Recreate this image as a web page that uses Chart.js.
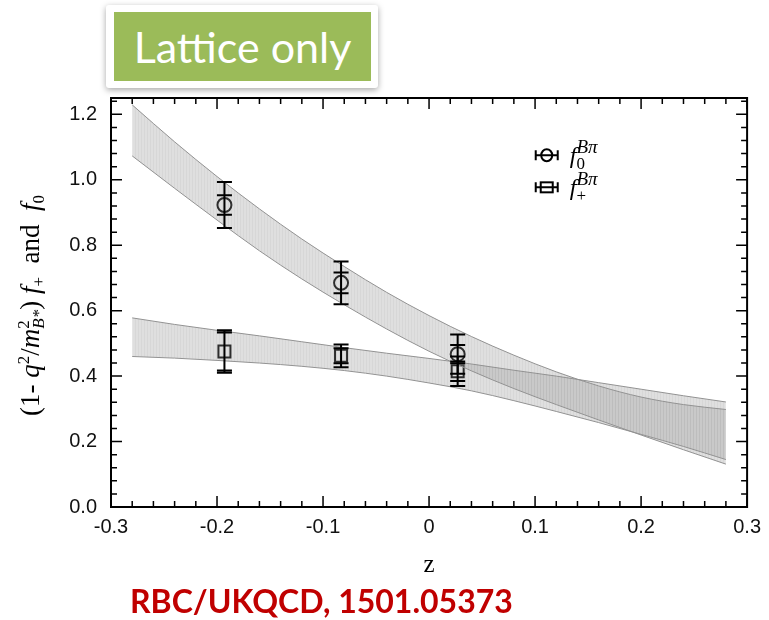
<!DOCTYPE html>
<html>
<head>
<meta charset="utf-8">
<script src="https://cdn.jsdelivr.net/npm/chart.js@4.4.1/dist/chart.umd.min.js"></script>
<style>
	body { margin: 0; background: #fff; }
	#wrap { position: relative; width: 769px; height: 620px; }
	#title-box {
		position: absolute; left: 106px; top: 5px; width: 272px; height: 83px;
		background: #fff; border-radius: 3px;
		box-shadow: 0 2px 6px rgba(0, 0, 0, 0.35);
	}
	#title-box div {
		position: absolute; left: 8px; top: 7px; width: 257px; height: 69px;
		background: #9bbb59; color: #fff; text-align: center;
		font: 43px Lato, sans-serif; line-height: 69px;
	}
	#cite {
		position: absolute; left: 130px; top: 585px;
		font: bold 32px Lato, sans-serif; line-height: 1; color: #c00000;
	}
</style>
</head>
<body>
<div id="wrap">
	<canvas id="chart" width="769" height="620"></canvas>
	<div id="title-box"><div>Lattice only</div></div>
	<div id="cite">RBC/UKQCD, 1501.05373</div>
</div>
<script>
const chartCanvas = document.getElementById('chart');

// band samples (z) and band edges
const bandZ = [-0.28, -0.24, -0.20, -0.16, -0.12, -0.08, -0.04, 0.00, 0.04, 0.08, 0.12, 0.16, 0.20, 0.24, 0.28];
const f0Upper = [1.229, 1.116, 1.01, 0.911, 0.819, 0.735, 0.656, 0.585, 0.521, 0.464, 0.413, 0.37, 0.336, 0.313, 0.298];
const f0Lower = [1.073, 0.974, 0.877, 0.783, 0.697, 0.618, 0.544, 0.476, 0.416, 0.362, 0.313, 0.266, 0.22, 0.175, 0.131];
const fpUpper = [0.578, 0.558, 0.54, 0.523, 0.505, 0.487, 0.47, 0.454, 0.437, 0.418, 0.40, 0.38, 0.36, 0.34, 0.321];
const fpLower = [0.46, 0.455, 0.448, 0.44, 0.43, 0.417, 0.40, 0.379, 0.355, 0.325, 0.292, 0.258, 0.222, 0.185, 0.145];

// lattice points
const pointZ = [-0.193, -0.083, 0.027];
const f0Val = [0.923, 0.685, 0.467];
const f0ErrTot = [0.07, 0.065, 0.06];
const f0ErrStat = [0.03, 0.032, 0.028];
const fpVal = [0.475, 0.462, 0.415];
const fpErrTot = [0.065, 0.035, 0.045];
const fpErrStat = [0.058, 0.023, 0.03];

const xTicks = [-0.3, -0.2, -0.1, 0, 0.1, 0.2, 0.3];
const yTicks = [0, 0.2, 0.4, 0.6, 0.8, 1.0, 1.2];

const serif = '"Liberation Serif", "DejaVu Serif", serif';
const sans = '"Liberation Sans", Arial, sans-serif';
const bandEdge = '#929292';

// light grey fill with faint vertical hatching, like the original shading
const patCanvas = document.createElement('canvas');
patCanvas.width = 3; patCanvas.height = 4;
const patCtx = patCanvas.getContext('2d');
patCtx.fillStyle = 'rgba(150, 150, 150, 0.3)';
patCtx.fillRect(0, 0, 3, 4);
patCtx.fillStyle = 'rgba(120, 120, 120, 0.08)';
patCtx.fillRect(0, 0, 1, 4);
const bandFill = patCtx.createPattern(patCanvas, 'repeat');

const toPts = (xs, ys) => xs.map((x, i) => ({ x: x, y: ys[i] }));

// draw a run of text pieces: [text, style, scale, dy, noAdvance]
function drawPieces(ctx, pieces, size, x, y, align) {
	let total = 0;
	pieces.forEach(p => {
		ctx.font = p[1] + Math.round(size * p[2]) + 'px ' + serif;
		if (!p[4]) total += ctx.measureText(p[0]).width;
	});
	let cx = align === 'center' ? x - total / 2 : x;
	ctx.textAlign = 'left';
	ctx.textBaseline = 'alphabetic';
	pieces.forEach(p => {
		ctx.font = p[1] + Math.round(size * p[2]) + 'px ' + serif;
		ctx.fillText(p[0], cx, y + (p[3] || 0));
		if (!p[4]) cx += ctx.measureText(p[0]).width;
	});
}

const framePlugin = {
	id: 'frame',
	afterDatasetsDraw(chart) {
		const ctx = chart.ctx;
		const a = chart.chartArea;
		const xs = chart.scales.x, ys = chart.scales.y;
		ctx.save();
		ctx.strokeStyle = '#000';

		// error bars
		ctx.lineWidth = 2;
		const bar = (z, v, eTot, eStat) => {
			const px = xs.getPixelForValue(z);
			const top = ys.getPixelForValue(v + eTot), bot = ys.getPixelForValue(v - eTot);
			ctx.beginPath();
			ctx.moveTo(px, top); ctx.lineTo(px, bot);
			[v + eTot, v - eTot, v + eStat, v - eStat].forEach(e => {
				const py = ys.getPixelForValue(e);
				ctx.moveTo(px - 7.5, py); ctx.lineTo(px + 7.5, py);
			});
			ctx.stroke();
		};
		pointZ.forEach((z, i) => {
			bar(z, f0Val[i], f0ErrTot[i], f0ErrStat[i]);
			bar(z, fpVal[i], fpErrTot[i], fpErrStat[i]);
		});

		// frame
		ctx.lineWidth = 2;
		ctx.strokeRect(a.left, a.top, a.right - a.left, a.bottom - a.top);

		// inward ticks on all four sides
		ctx.lineWidth = 1.5;
		ctx.beginPath();
		for (let k = -15; k <= 15; k++) {
			const px = xs.getPixelForValue(k * 0.02);
			const len = k % 5 === 0 ? 11 : 6;
			ctx.moveTo(px, a.bottom); ctx.lineTo(px, a.bottom - len);
			ctx.moveTo(px, a.top); ctx.lineTo(px, a.top + len);
		}
		for (let k = 0; k <= 31; k++) {
			const py = ys.getPixelForValue(k * 0.04);
			const len = k % 5 === 0 ? 11 : 6;
			ctx.moveTo(a.left, py); ctx.lineTo(a.left + len, py);
			ctx.moveTo(a.right, py); ctx.lineTo(a.right - len, py);
		}
		ctx.stroke();

		// legend
		const lx = xs.getPixelForValue(0.111), lw = 11;
		const ly0 = ys.getPixelForValue(1.075), ly1 = ys.getPixelForValue(0.977);
		ctx.lineWidth = 2;
		[ly0, ly1].forEach(ly => {
			ctx.beginPath();
			ctx.moveTo(lx - lw, ly); ctx.lineTo(lx + lw, ly);
			ctx.moveTo(lx - lw, ly - 5); ctx.lineTo(lx - lw, ly + 5);
			ctx.moveTo(lx + lw, ly - 5); ctx.lineTo(lx + lw, ly + 5);
			ctx.stroke();
		});
		ctx.beginPath();
		ctx.ellipse(lx, ly0, 5.5, 6, 0, 0, Math.PI * 2);
		ctx.stroke();
		ctx.strokeRect(lx - 6, ly1 - 5, 12, 10);
		ctx.fillStyle = '#000';
		drawPieces(ctx, [['f', 'italic ', 1, 0], ['0', '', 0.7, 6, true], ['B\u03c0', 'italic ', 0.78, -10]], 24, lx + 23, ly0 + 8);
		drawPieces(ctx, [['f', 'italic ', 1, 0], ['+', '', 0.7, 6, true], ['B\u03c0', 'italic ', 0.78, -10]], 24, lx + 23, ly1 + 8);

		// axis titles
		drawPieces(ctx, [['z', '', 1, 0]], 25, (a.left + a.right) / 2, a.bottom + 65, 'center');
		ctx.translate(a.left - 72, (a.top + a.bottom) / 2 + 3);
		ctx.rotate(-Math.PI / 2);
		drawPieces(ctx, [
			['(1- ', '', 1, 0],
			['q', 'italic ', 1, 0],
			['2', '', 0.62, -10],
			['/', '', 1, 0],
			['m', 'italic ', 1, 0],
			['2', '', 0.62, -10, true],
			['B*', 'italic ', 0.62, 5],
			[') ', '', 1, 0],
			['f', 'italic ', 1, 0],
			['+', '', 0.62, 5],
			['  and  ', '', 1, 0],
			['f', 'italic ', 1, 0],
			['0', '', 0.62, 5]
		], 27, 0, 0, 'center');
		ctx.restore();
	}
};

const bandSet = (ys, fill) => ({
	type: 'line',
	data: toPts(bandZ, ys),
	borderColor: bandEdge,
	borderWidth: 1,
	backgroundColor: bandFill,
	fill: fill,
	pointRadius: 0,
	cubicInterpolationMode: 'monotone'
});

const markerSet = (vals, style, r) => ({
	type: 'scatter',
	data: toPts(pointZ, vals),
	pointStyle: style,
	pointRadius: r,
	borderColor: '#000',
	borderWidth: 2,
	backgroundColor: 'rgba(0,0,0,0)'
});

const formChart = new Chart(chartCanvas, {
	type: 'line',
	data: {
		datasets: [
			bandSet(f0Lower, false),
			bandSet(f0Upper, '-1'),
			bandSet(fpLower, false),
			bandSet(fpUpper, '-1'),
			markerSet(f0Val, 'circle', 7),
			markerSet(fpVal, 'rect', 8.5)
		]
	},
	options: {
		responsive: false,
		animation: false,
		layout: { padding: { top: 98, right: 20, left: 0, bottom: 0 } },
		scales: {
			x: {
				type: 'linear', min: -0.3, max: 0.3,
				afterFit: s => { s.height = 113; },
				afterBuildTicks: s => { s.ticks = xTicks.map(v => ({ value: v })); },
				grid: { display: false, drawTicks: false }, border: { display: false },
				ticks: {
					padding: 8, color: '#111', maxRotation: 0,
					font: { family: sans, size: 20 },
					callback: v => v === 0 ? '0' : v.toFixed(1)
				}
			},
			y: {
				type: 'linear', min: 0, max: 1.25,
				afterFit: s => { s.width = 111; },
				afterBuildTicks: s => { s.ticks = yTicks.map(v => ({ value: v })); },
				grid: { display: false, drawTicks: false }, border: { display: false },
				ticks: {
					padding: 14, color: '#111',
					font: { family: sans, size: 20 },
					callback: v => v.toFixed(1)
				}
			}
		},
		plugins: {
			legend: { display: false },
			tooltip: { enabled: false }
		}
	},
	plugins: [framePlugin]
});
</script>
</body>
</html>
